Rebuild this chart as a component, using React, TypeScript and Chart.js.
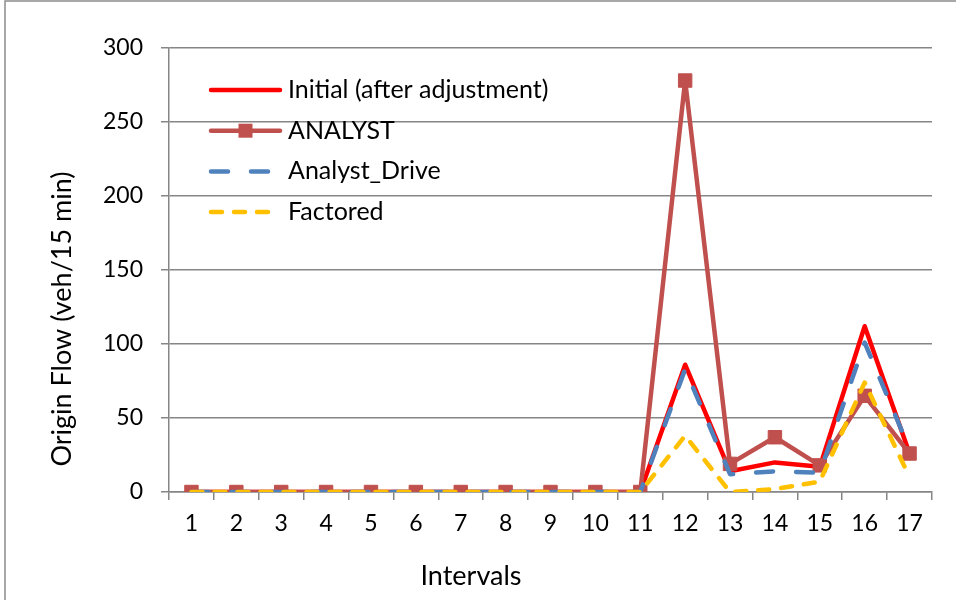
import React, { useEffect, useRef } from "react";
import { Chart, registerables } from "chart.js";

Chart.register(...registerables);

const categories = ["1", "2", "3", "4", "5", "6", "7", "8", "9", "10", "11", "12", "13", "14", "15", "16", "17"];
const initialValues = [0, 0, 0, 0, 0, 0, 0, 0, 0, 0, 0, 86, 14, 20, 17, 112, 26];
const analystValues = [0, 0, 0, 0, 0, 0, 0, 0, 0, 0, 0, 278, 19, 37, 18, 65, 26];
const analystDriveValues = [0, 0, 0, 0, 0, 0, 0, 0, 0, 0, 0, 83, 12, 14, 13, 101, 29];
const factoredValues = [0, 0, 0, 0, 0, 0, 0, 0, 0, 0, 0, 38, 0, 2, 7, 74, 10];
const seriesNames = ["Initial (after adjustment)", "ANALYST", "Analyst_Drive", "Factored"];
const yTitle = "Origin Flow (veh/15 min)";
const xTitle = "Intervals";

const FONT = "Lato, 'Open Sans', sans-serif";
const GRID = "#868686";

const frameLegendTitles = {
  id: "frameLegendTitles",
  afterDraw(chart: any) {
    const ctx = chart.ctx;
    const area = chart.chartArea;
    ctx.save();
    // outer frame
    ctx.strokeStyle = "#8c8c8c";
    ctx.lineWidth = 1.5;
    ctx.beginPath();
    ctx.moveTo(5, 600);
    ctx.lineTo(5, 1);
    ctx.lineTo(956, 1);
    ctx.stroke();
    // axis titles (offset from centre, as in the reference)
    ctx.fillStyle = "#000";
    ctx.font = `27px ${FONT}`;
    ctx.textAlign = "center";
    ctx.textBaseline = "middle";
    ctx.fillText(xTitle, area.left + 302, area.bottom + 84);
    ctx.save();
    ctx.translate(62, area.top + 271);
    ctx.rotate(-Math.PI / 2);
    ctx.fillText(yTitle, 0, 0);
    ctx.restore();
    // legend
    const x0 = area.left + 42;
    const x1 = area.left + 111;
    const y0 = area.top + 42;
    const step = 40.7;
    chart.data.datasets.forEach((ds: any, i: number) => {
      const y = y0 + i * step;
      ctx.strokeStyle = ds.borderColor;
      ctx.lineWidth = ds.borderWidth;
      ctx.lineCap = ds.borderCapStyle || "butt";
      ctx.setLineDash(ds.borderDash || []);
      ctx.beginPath();
      ctx.moveTo(x0, y);
      ctx.lineTo(x1, y);
      ctx.stroke();
      ctx.setLineDash([]);
      if (ds.pointRadius > 0) {
        const s = 14;
        ctx.fillStyle = ds.pointBackgroundColor;
        ctx.fillRect((x0 + x1) / 2 - s / 2, y - s / 2, s, s);
      }
      ctx.fillStyle = "#000";
      ctx.font = `25px ${FONT}`;
      ctx.textAlign = "left";
      ctx.textBaseline = "middle";
      ctx.fillText(ds.label, x1 + 8, y);
    });
    ctx.restore();
  },
};

export default function App() {
  const ref = useRef<HTMLCanvasElement | null>(null);

  useEffect(() => {
    if (!ref.current) return;
    const chart = new Chart(ref.current, {
      type: "line",
      data: {
        labels: categories,
        datasets: [
          {
            label: seriesNames[0],
            data: initialValues,
            borderColor: "#FF0000",
            backgroundColor: "#FF0000",
            borderWidth: 4.5,
            pointRadius: 0,
            borderCapStyle: "round",
            borderJoinStyle: "round",
            order: 4,
          },
          {
            label: seriesNames[1],
            data: analystValues,
            borderColor: "#C0504D",
            backgroundColor: "#C0504D",
            pointBackgroundColor: "#C0504D",
            pointBorderColor: "#C0504D",
            pointStyle: "rect",
            pointRadius: 9.5,
            pointBorderWidth: 1,
            borderWidth: 4.5,
            borderCapStyle: "round",
            borderJoinStyle: "round",
            order: 3,
          },
          {
            label: seriesNames[2],
            data: analystDriveValues,
            borderColor: "#4F81BD",
            backgroundColor: "#4F81BD",
            borderWidth: 4.5,
            pointRadius: 0,
            borderDash: [17, 23],
            borderCapStyle: "round",
            borderJoinStyle: "round",
            order: 2,
          },
          {
            label: seriesNames[3],
            data: factoredValues,
            borderColor: "#FFC000",
            backgroundColor: "#FFC000",
            borderWidth: 4.5,
            pointRadius: 0,
            borderDash: [11, 12],
            borderCapStyle: "round",
            borderJoinStyle: "round",
            order: 1,
          },
        ] as any,
      },
      options: {
        responsive: false,
        animation: false,
        devicePixelRatio: 1,
        layout: { padding: { left: 0, right: 24, top: 48, bottom: 0 } },
        plugins: {
          legend: { display: false },
          tooltip: { enabled: false },
        },
        scales: {
          x: {
            type: "category",
            offset: true,
            grid: {
              offset: true,
              drawOnChartArea: false,
              drawTicks: true,
              tickLength: 8,
              color: GRID,
              lineWidth: 1.5,
            },
            border: { color: GRID, width: 1.5 },
            ticks: {
              color: "#000",
              font: { family: FONT, size: 23 },
              padding: 10,
              maxRotation: 0,
              autoSkip: false,
            },
            title: { display: false },
            afterFit: (scale: any) => {
              scale.height = 108;
            },
          },
          y: {
            min: 0,
            max: 300,
            ticks: {
              stepSize: 50,
              color: "#000",
              font: { family: FONT, size: 23 },
              padding: 18,
            },
            grid: {
              color: GRID,
              lineWidth: 1.5,
              drawTicks: true,
              tickLength: 8,
            },
            border: { color: GRID, width: 1.5 },
            title: { display: false },
            afterFit: (scale: any) => {
              scale.width = 169;
            },
          },
        },
      },
      plugins: [frameLegendTitles],
    });
    return () => chart.destroy();
  }, []);

  return (
    <div style={{ position: "absolute", left: 0, top: 0, width: 956, height: 600, background: "#fff" }}>
      <canvas ref={ref} width={956} height={600} style={{ display: "block" }} />
    </div>
  );
}
